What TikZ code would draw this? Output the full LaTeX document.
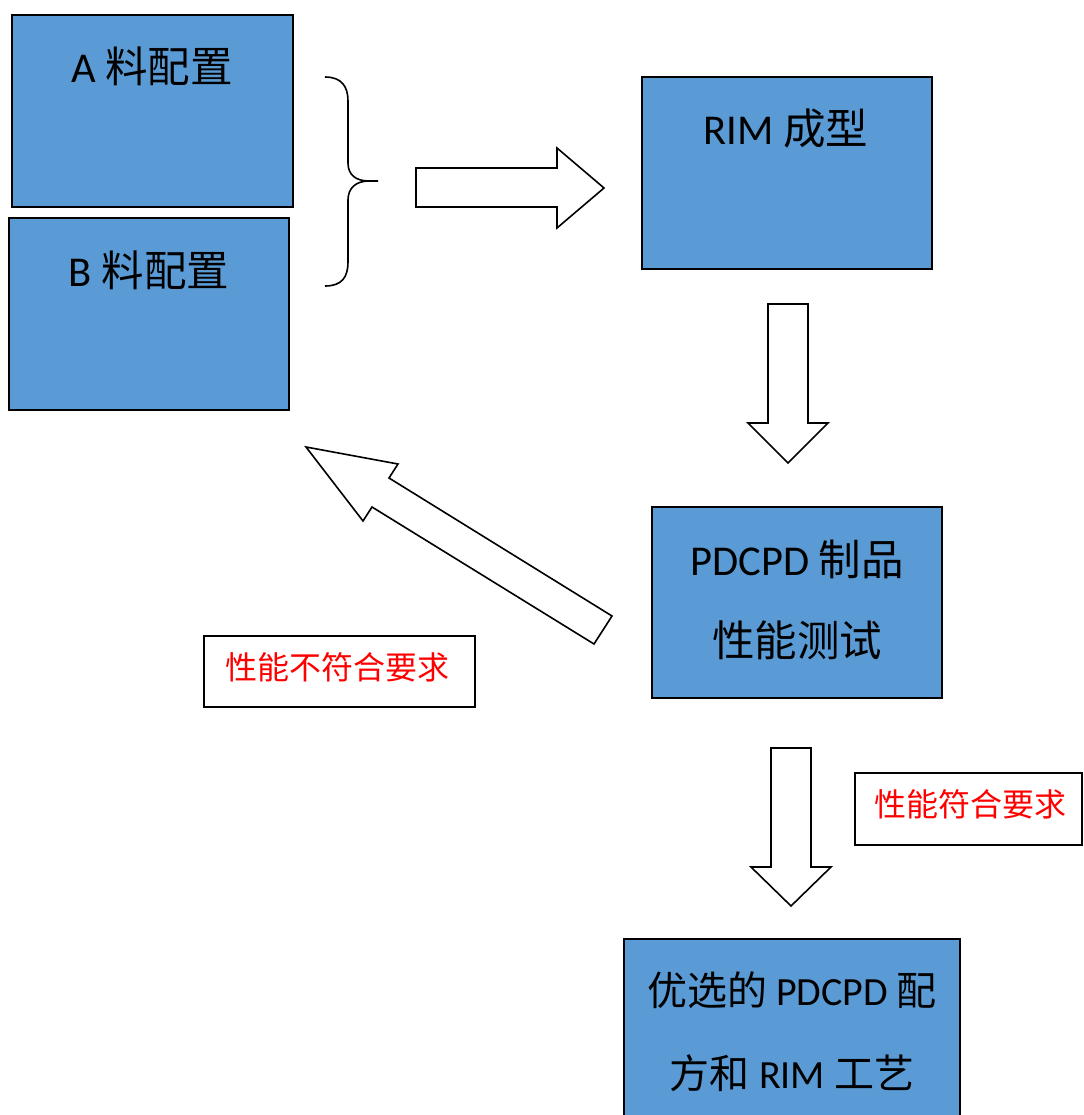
\documentclass[tikz,border=0pt]{standalone}
\usepackage{fontspec}
\setmainfont{Carlito}
\newfontfamily\cjk{Noto Sans CJK SC}
\definecolor{boxblue}{HTML}{5B9BD5}
\definecolor{labred}{HTML}{FF0000}
\begin{document}
\begin{tikzpicture}[x=1pt,y=-1pt,
  bluebox/.style={draw=black, line width=2pt, fill=boxblue, inner sep=0pt},
  labbox/.style={draw=black, line width=2pt, fill=white, inner sep=0pt},
  bigtext/.style={anchor=base, inner sep=0pt, font=\fontsize{42.5}{50}\selectfont},
  besttext/.style={anchor=base, inner sep=0pt, font=\fontsize{40}{48}\selectfont},
  redtext/.style={anchor=base, inner sep=0pt, text=labred, font=\fontsize{32}{38}\selectfont\cjk},
  blockarrow/.style={draw=black, line width=1.6pt, fill=white, line join=miter}]
\useasboundingbox (0,0) rectangle (1083,1115);

% boxes
\node[bluebox, minimum width=281pt, minimum height=192pt] (boxA) at (152.5,111) {};
\node[bluebox, minimum width=280pt, minimum height=192pt] (boxB) at (149,314) {};
\node[bluebox, minimum width=290pt, minimum height=192pt] (boxRIM) at (787,173) {};
\node[bluebox, minimum width=290pt, minimum height=191pt] (boxTest) at (797,602.5) {};
\node[bluebox, minimum width=336pt, minimum height=200pt] (boxBest) at (792,1039) {};
\node[labbox, minimum width=271pt, minimum height=71pt] (labNo) at (339.5,671.5) {};
\node[labbox, minimum width=227pt, minimum height=72pt] (labYes) at (968.5,809) {};

% texts
\node[bigtext] (tA) at (152,83) {A {\cjk 料配置}};
\node[bigtext] (tB) at (149,286) {B {\cjk 料配置}};
\node[bigtext] (tRIM) at (786,145) {RIM {\cjk 成型}};
\node[bigtext] (tTest1) at (797,575) {PDCPD {\cjk 制品}};
\node[bigtext] (tTest2) at (797,656) {{\cjk 性能测试}};
\node[besttext] (tBest1) at (792,1005) {{\cjk 优选的} PDCPD {\cjk 配}};
\node[besttext] (tBest2) at (792,1088) {{\cjk 方和} RIM {\cjk 工艺}};
\node[redtext] (tNo) at (337,679) {性能不符合要求};
\node[redtext] (tYes) at (970,816) {性能符合要求};

% brace
\draw[line width=1.6pt] (325,77) .. controls (342,77) and (348,87) .. (348,101)
  -- (348,163) .. controls (348,175) and (356,181) .. (369,181) -- (378,181);
\draw[line width=1.6pt] (369,181) .. controls (356,181) and (348,188) .. (348,200)
  -- (348,262) .. controls (348,277) and (342,286) .. (325,286);

% block arrows
\draw[blockarrow] (416,168) -- (557,168) -- (557,148) -- (604,188) -- (557,228) -- (557,207) -- (416,207) -- cycle;
\draw[blockarrow] (768,304) -- (808,304) -- (808,423) -- (828,423) -- (788,463) -- (748,423) -- (768,423) -- cycle;
\draw[blockarrow] (771,748) -- (811,748) -- (811,867) -- (831,867) -- (791,906) -- (751,867) -- (771,867) -- cycle;
\draw[blockarrow] (306,447) -- (398,464) -- (389,478) -- (612,616) -- (594,644) -- (372,507) -- (363,521) -- cycle;
\end{tikzpicture}
\end{document}
